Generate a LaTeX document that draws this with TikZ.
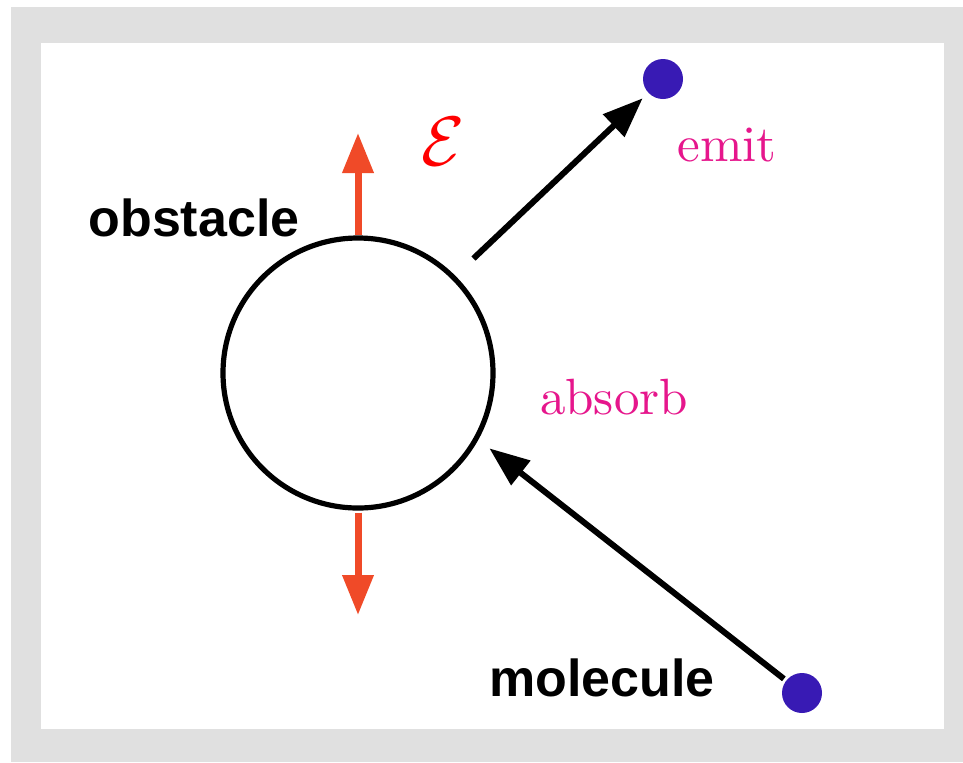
\RequirePackage{fix-cm}
\documentclass[tikz,border=0pt]{standalone}
\usepackage{fontspec}
\newfontfamily\labelsans{Liberation Sans}
\newfontfamily\actserif{lmroman10-regular.otf}
\usetikzlibrary{arrows.meta}
\definecolor{framegray}{HTML}{E0E0E0}
\definecolor{flucred}{RGB}{240,74,40}
\definecolor{actpink}{RGB}{230,22,140}
\definecolor{particle}{RGB}{56,26,180}

\begin{document}
\begin{tikzpicture}[x=0.5pt, y=-0.5pt,
  obst/.style={circle, draw, line width=2.6pt, minimum size=135pt, inner sep=0pt},
  mol/.style={circle, fill=particle, minimum size=20pt, inner sep=0pt, outer sep=0pt},
  lbl/.style={font=\labelsans\bfseries\fontsize{26}{30}\selectfont, inner sep=0pt},
  act/.style={text=actpink, font=\actserif\fontsize{25.5}{30}\selectfont, inner sep=0pt},
  ar/.style={-{Triangle[length=20pt,width=15pt]}, line width=3pt},
  fluc/.style={-{Triangle[length=20pt,width=15pt]}, line width=3.5pt, draw=flucred}
]
  \useasboundingbox (0,0) rectangle (963,762);
  \fill[framegray] (11,7) rectangle (963,762);
  \fill[white] (41,43) rectangle (944,729);

  \node[obst] (obs) at (358,373) {};
  \node[mol] (emitdot) at (663,79) {};
  \node[mol] (moldot) at (802,693) {};
  \coordinate (fluctop) at (358,133);
  \coordinate (flucbot) at (358,615);

  \draw[fluc] (obs.north) -- (fluctop);
  \draw[fluc, shorten <=1pt] (obs.south) -- (flucbot);
  \draw[ar, shorten <=12.5pt, shorten >=4pt] (obs.45) -- (emitdot);
  \draw[ar, shorten <=1.5pt, shorten >=7pt] (moldot) -- (obs.331);

  \node[lbl] (obslbl) at (194,218) {obstacle};
  \node[lbl] (mollbl) at (602,678) {molecule};
  \node[act] (emitlbl) at (727,145) {emit};
  \node[act] (abslbl) at (614,397) {absorb};
  \node[text=red, font=\fontsize{35}{42}\selectfont, inner sep=0pt] (eps) at (443,142) {$\mathcal{E}$};
\end{tikzpicture}
\end{document}
